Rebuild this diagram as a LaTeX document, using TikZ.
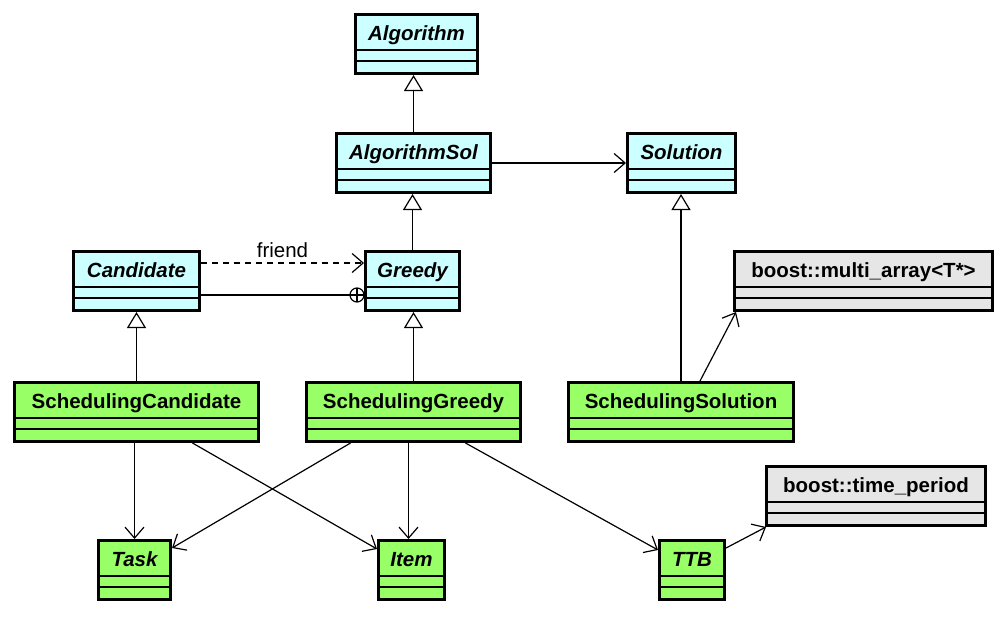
\documentclass[tikz,border=0pt]{standalone}
\usepackage{fontspec}
\setmainfont{Liberation Sans}
\usetikzlibrary{arrows.meta}
\definecolor{abscol}{HTML}{CCFFFF}
\definecolor{impcol}{HTML}{99FF66}
\definecolor{extcol}{HTML}{E6E6E6}
\tikzset{
  clsbox/.style={draw=black, line width=3pt, inner sep=0pt, outer sep=1.5pt, anchor=north west},
  sepline/.style={line width=1.2pt},
  ttl/.style={font=\fontsize{20.5}{24}\selectfont\bfseries, inner sep=0pt},
  ittl/.style={font=\fontsize{20.5}{24}\selectfont\bfseries\itshape, inner sep=0pt},
  conn/.style={line width=1.2pt},
  inh/.style={conn, -{Triangle[open, length=16pt, width=19pt, line width=1.2pt]}},
  dep/.style={conn, -{Straight Barb[length=11pt, width=19pt, line width=1.2pt]}},
  lbl/.style={font=\fontsize{20.5}{24}\selectfont, inner sep=0pt},
}
% name, x, y (outer top-left), outer width, fill, title style, text
\newcommand\umlcls[7]{%
  \node[clsbox, fill=#5, minimum width={#4pt-3pt}, minimum height=59pt] (#1) at (#2,#3) {};
  \draw[sepline] ([yshift=-37pt]#1.north west) -- ([yshift=-37pt]#1.north east);
  \draw[sepline] ([yshift=-48pt]#1.north west) -- ([yshift=-48pt]#1.north east);
  \node[#6, anchor=base] (#1-t) at ([yshift=-27pt]#1.north) {#7};
}
\begin{document}
\begin{tikzpicture}[x=1pt, y=-1pt]
  \useasboundingbox[fill=white] (0,0) rectangle (1008,616);
  \umlcls{alg}{354}{13}{125}{abscol}{ittl}{Algorithm}
  \umlcls{algsol}{335}{132}{157}{abscol}{ittl}{AlgorithmSol}
  \umlcls{sol}{626}{132}{111}{abscol}{ittl}{Solution}
  \umlcls{cand}{72}{250}{129}{abscol}{ittl}{Candidate}
  \umlcls{greedy}{364}{250}{97}{abscol}{ittl}{Greedy}
  \umlcls{ma}{733}{250}{261}{extcol}{ttl}{boost::multi\_array<T*>}
  \umlcls{sc}{13}{381}{247}{impcol}{ttl}{SchedulingCandidate}
  \umlcls{sg}{305}{381}{217}{impcol}{ttl}{SchedulingGreedy}
  \umlcls{ss}{567}{381}{228}{impcol}{ttl}{SchedulingSolution}
  \umlcls{tp}{765}{465}{222}{extcol}{ttl}{boost::time\_period}
  \umlcls{task}{97}{539}{75}{impcol}{ittl}{Task}
  \umlcls{item}{377}{539}{69}{impcol}{ittl}{Item}
  \umlcls{ttb}{658}{539}{68}{impcol}{ittl}{TTB}

  % generalisations
  \draw[inh] (algsol.north) -- (algsol.north |- alg.south);
  \draw[inh] (greedy.north) -- (greedy.north |- algsol.south);
  \draw[inh] (ss.north) -- (ss.north |- sol.south);
  \draw[inh] (sc.north) -- (sc.north |- cand.south);
  \draw[inh] (sg.north) -- (sg.north |- greedy.south);

  % associations
  \draw[dep] (algsol.east) -- (algsol.east -| sol.west);
  \draw[dep, dash pattern=on 6pt off 5pt] ([yshift=-13pt]cand.north east) -- ([yshift=-13pt]greedy.north west)
    node[lbl, midway, above, yshift=5pt] (friend) {friend};
  \coordinate (nest) at ([xshift=-7pt, yshift=-45pt]greedy.north west);
  \draw[conn] ([yshift=-45pt]cand.north east) -- ([xshift=-7pt]nest);
  \draw[conn] (nest) circle (7pt);
  \draw[conn] ([xshift=-7pt]nest) -- ([xshift=7pt]nest);
  \draw[conn] ([yshift=7pt]nest) -- ([yshift=-7pt]nest);

  \draw[dep] ([xshift=19pt]ss.north) -- ([xshift=3pt]ma.south west);
  \draw[dep] (sc.south -| task.north) -- (task.north);
  \draw[dep] ([xshift=56pt]sc.south) -- ([yshift=-10pt]item.north west);
  \draw[dep] ([xshift=-63pt]sg.south) -- ([yshift=-9pt]task.north east);
  \draw[dep] ([xshift=-5pt]sg.south) -- ([xshift=-3pt]item.north);
  \draw[dep] ([xshift=52pt]sg.south) -- ([yshift=-11pt]ttb.north west);
  \draw[dep] ([yshift=-9pt]ttb.north east) -- ([xshift=1pt]tp.south west);
\end{tikzpicture}
\end{document}
